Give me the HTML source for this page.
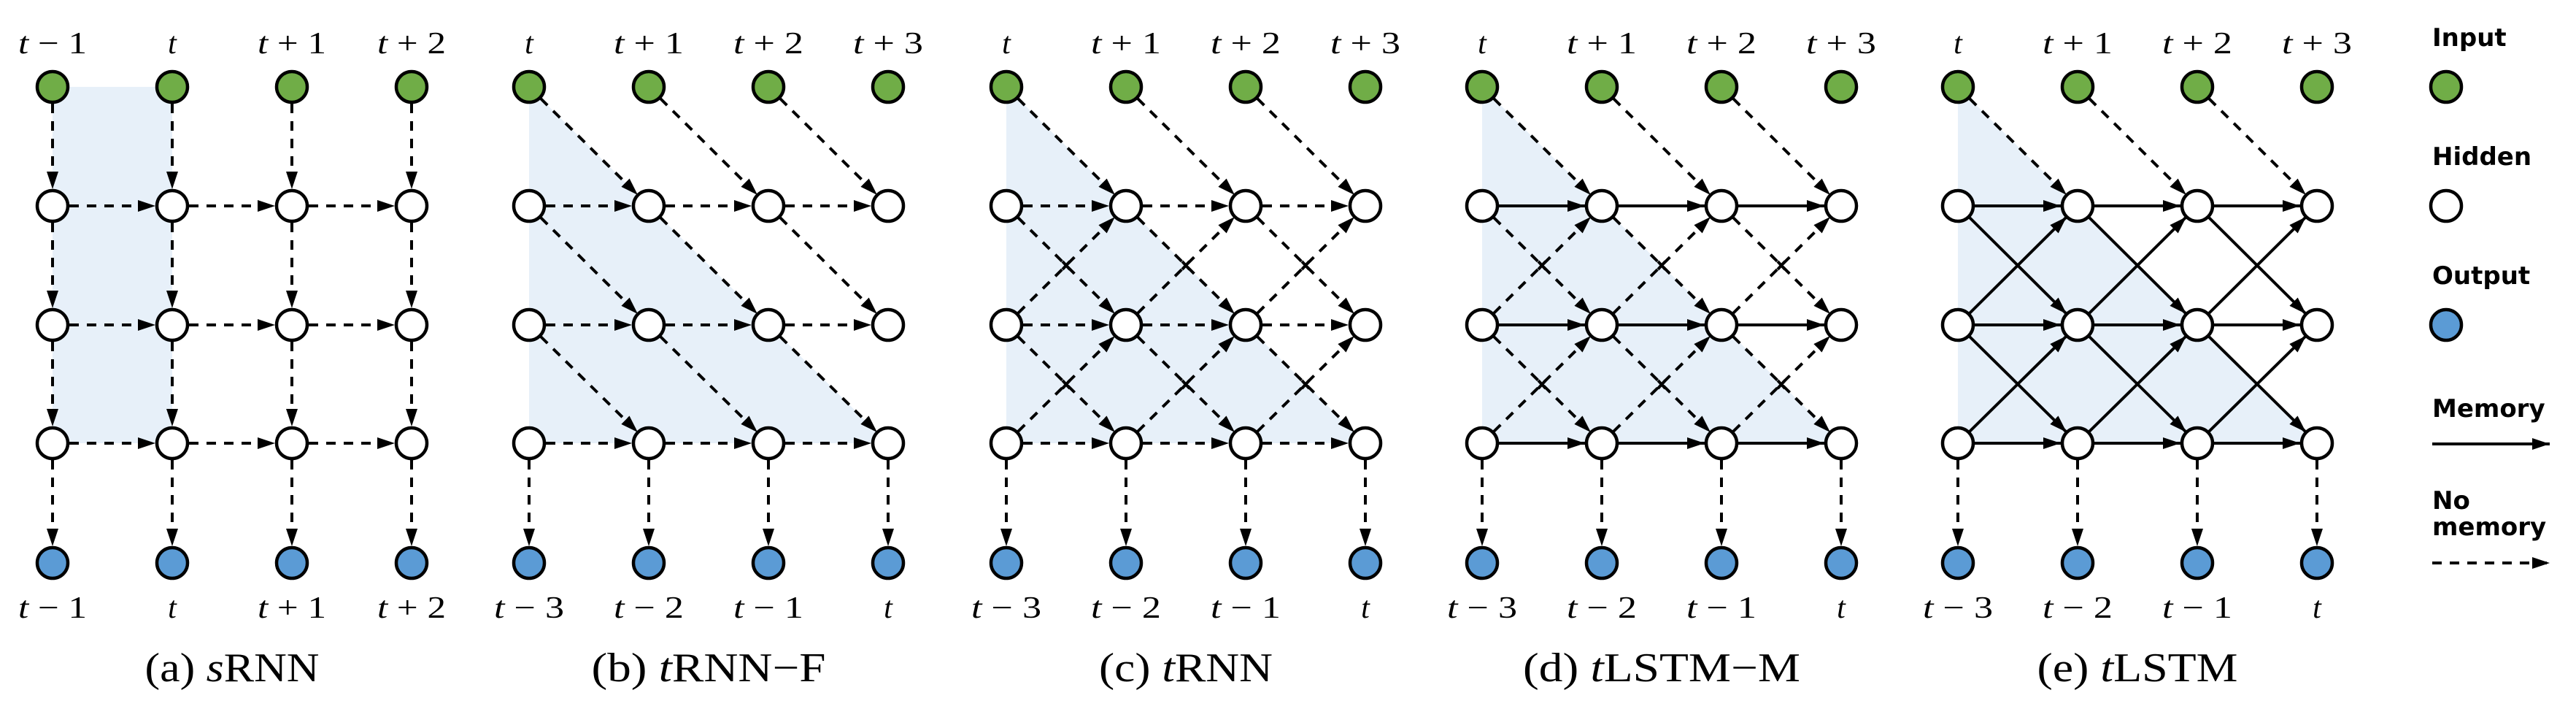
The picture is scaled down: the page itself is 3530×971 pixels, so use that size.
<!DOCTYPE html>
<html><head><meta charset="utf-8"><style>
html,body{margin:0;padding:0;background:#fff;}
svg{display:block;}
text{font-family:"Liberation Serif",serif;}
.lg{font-family:"DejaVu Sans","Liberation Sans",sans-serif;font-weight:bold;font-size:34px;}
</style></head><body>
<svg width="3530" height="971" viewBox="0 0 3530 971" xmlns="http://www.w3.org/2000/svg">
<defs>
<marker id="ah" markerUnits="userSpaceOnUse" markerWidth="26" markerHeight="16" refX="24" refY="8" orient="auto">
<path d="M0,0 L24,8 L0,16 z" fill="#000"/>
</marker>
<g id="nodes" stroke="#000" stroke-width="4.5">
<g fill="#70ad47"><circle cx="0" cy="119" r="21"/><circle cx="164" cy="119" r="21"/><circle cx="328" cy="119" r="21"/><circle cx="492" cy="119" r="21"/></g>
<g fill="#fff">
<circle cx="0" cy="282" r="21"/><circle cx="164" cy="282" r="21"/><circle cx="328" cy="282" r="21"/><circle cx="492" cy="282" r="21"/>
<circle cx="0" cy="445" r="21"/><circle cx="164" cy="445" r="21"/><circle cx="328" cy="445" r="21"/><circle cx="492" cy="445" r="21"/>
<circle cx="0" cy="607" r="21"/><circle cx="164" cy="607" r="21"/><circle cx="328" cy="607" r="21"/><circle cx="492" cy="607" r="21"/></g>
<g fill="#5b9bd5"><circle cx="0" cy="771" r="21"/><circle cx="164" cy="771" r="21"/><circle cx="328" cy="771" r="21"/><circle cx="492" cy="771" r="21"/></g>
</g>
<g id="outs" stroke="#000" stroke-width="4" stroke-dasharray="13 11" marker-end="url(#ah)">
<line x1="0" y1="630" x2="0" y2="748"/><line x1="164" y1="630" x2="164" y2="748"/><line x1="328" y1="630" x2="328" y2="748"/><line x1="492" y1="630" x2="492" y2="748"/>
</g>
<g id="horD" stroke="#000" stroke-width="4" stroke-dasharray="13 11" marker-end="url(#ah)">
<line x1="23" y1="282" x2="141" y2="282"/><line x1="187" y1="282" x2="305" y2="282"/><line x1="351" y1="282" x2="469" y2="282"/>
<line x1="23" y1="445" x2="141" y2="445"/><line x1="187" y1="445" x2="305" y2="445"/><line x1="351" y1="445" x2="469" y2="445"/>
<line x1="23" y1="607" x2="141" y2="607"/><line x1="187" y1="607" x2="305" y2="607"/><line x1="351" y1="607" x2="469" y2="607"/>
</g>
<g id="horS" stroke="#000" stroke-width="4" marker-end="url(#ah)">
<line x1="23" y1="282" x2="141" y2="282"/><line x1="187" y1="282" x2="305" y2="282"/><line x1="351" y1="282" x2="469" y2="282"/>
<line x1="23" y1="445" x2="141" y2="445"/><line x1="187" y1="445" x2="305" y2="445"/><line x1="351" y1="445" x2="469" y2="445"/>
<line x1="23" y1="607" x2="141" y2="607"/><line x1="187" y1="607" x2="305" y2="607"/><line x1="351" y1="607" x2="469" y2="607"/>
</g>
<g id="inD" stroke="#000" stroke-width="4" stroke-dasharray="13 11" marker-end="url(#ah)">
<line x1="16" y1="135" x2="149" y2="267"/><line x1="180" y1="135" x2="313" y2="267"/><line x1="344" y1="135" x2="477" y2="267"/>
</g>
<g id="downD" stroke="#000" stroke-width="4" stroke-dasharray="13 11" marker-end="url(#ah)">
<line x1="16" y1="298" x2="149" y2="430"/><line x1="180" y1="298" x2="313" y2="430"/><line x1="344" y1="298" x2="477" y2="430"/>
<line x1="16" y1="461" x2="149" y2="592"/><line x1="180" y1="461" x2="313" y2="592"/><line x1="344" y1="461" x2="477" y2="592"/>
</g>
<g id="downS" stroke="#000" stroke-width="4" marker-end="url(#ah)">
<line x1="16" y1="298" x2="149" y2="430"/><line x1="180" y1="298" x2="313" y2="430"/><line x1="344" y1="298" x2="477" y2="430"/>
<line x1="16" y1="461" x2="149" y2="592"/><line x1="180" y1="461" x2="313" y2="592"/><line x1="344" y1="461" x2="477" y2="592"/>
</g>
<g id="upD" stroke="#000" stroke-width="4" stroke-dasharray="13 11" marker-end="url(#ah)">
<line x1="16" y1="429" x2="149" y2="297"/><line x1="180" y1="429" x2="313" y2="297"/><line x1="344" y1="429" x2="477" y2="297"/>
<line x1="16" y1="591" x2="149" y2="460"/><line x1="180" y1="591" x2="313" y2="460"/><line x1="344" y1="591" x2="477" y2="460"/>
</g>
<g id="upS" stroke="#000" stroke-width="4" marker-end="url(#ah)">
<line x1="16" y1="429" x2="149" y2="297"/><line x1="180" y1="429" x2="313" y2="297"/><line x1="344" y1="429" x2="477" y2="297"/>
<line x1="16" y1="591" x2="149" y2="460"/><line x1="180" y1="591" x2="313" y2="460"/><line x1="344" y1="591" x2="477" y2="460"/>
</g>
<g id="xm" stroke="#000" stroke-width="4">
<path d="M77,358 l10,11 M87,358 l-10,11 M241,358 l10,11 M251,358 l-10,11 M405,358 l10,11 M415,358 l-10,11"/>
<path d="M77,521 l10,11 M87,521 l-10,11 M241,521 l10,11 M251,521 l-10,11 M405,521 l10,11 M415,521 l-10,11"/>
</g>
<polygon id="tri" points="0,119 0,607 492,607" fill="#e7f0f9"/>
<g id="lab" font-size="42" text-anchor="middle">
<text x="0" y="73" font-style="italic">t</text>
<text x="164" y="73" textLength="96" lengthAdjust="spacingAndGlyphs"><tspan font-style="italic">t</tspan> + 1</text>
<text x="328" y="73" textLength="96" lengthAdjust="spacingAndGlyphs"><tspan font-style="italic">t</tspan> + 2</text>
<text x="492" y="73" textLength="96" lengthAdjust="spacingAndGlyphs"><tspan font-style="italic">t</tspan> + 3</text>
<text x="0" y="846" textLength="96" lengthAdjust="spacingAndGlyphs"><tspan font-style="italic">t</tspan> − 3</text>
<text x="164" y="846" textLength="96" lengthAdjust="spacingAndGlyphs"><tspan font-style="italic">t</tspan> − 2</text>
<text x="328" y="846" textLength="96" lengthAdjust="spacingAndGlyphs"><tspan font-style="italic">t</tspan> − 1</text>
<text x="492" y="846" font-style="italic">t</text>
</g>
</defs>

<!-- (a) -->
<g transform="translate(72,0)">
<rect x="0" y="119" width="164" height="488" fill="#e7f0f9"/>
<use href="#horD"/>
<g stroke="#000" stroke-width="4" stroke-dasharray="13 11" marker-end="url(#ah)">
<line x1="0" y1="142" x2="0" y2="259"/><line x1="164" y1="142" x2="164" y2="259"/><line x1="328" y1="142" x2="328" y2="259"/><line x1="492" y1="142" x2="492" y2="259"/>
<line x1="0" y1="305" x2="0" y2="422"/><line x1="164" y1="305" x2="164" y2="422"/><line x1="328" y1="305" x2="328" y2="422"/><line x1="492" y1="305" x2="492" y2="422"/>
<line x1="0" y1="468" x2="0" y2="584"/><line x1="164" y1="468" x2="164" y2="584"/><line x1="328" y1="468" x2="328" y2="584"/><line x1="492" y1="468" x2="492" y2="584"/>
</g>
<use href="#outs"/>
<use href="#nodes"/>
<g font-size="42" text-anchor="middle">
<text x="0" y="73" textLength="94" lengthAdjust="spacingAndGlyphs"><tspan font-style="italic">t</tspan> − 1</text>
<text x="164" y="73" font-style="italic">t</text>
<text x="328" y="73" textLength="94" lengthAdjust="spacingAndGlyphs"><tspan font-style="italic">t</tspan> + 1</text>
<text x="492" y="73" textLength="94" lengthAdjust="spacingAndGlyphs"><tspan font-style="italic">t</tspan> + 2</text>
<text x="0" y="846" textLength="94" lengthAdjust="spacingAndGlyphs"><tspan font-style="italic">t</tspan> − 1</text>
<text x="164" y="846" font-style="italic">t</text>
<text x="328" y="846" textLength="94" lengthAdjust="spacingAndGlyphs"><tspan font-style="italic">t</tspan> + 1</text>
<text x="492" y="846" textLength="94" lengthAdjust="spacingAndGlyphs"><tspan font-style="italic">t</tspan> + 2</text>
</g>
<text x="246" y="933" font-size="56" text-anchor="middle" textLength="239" lengthAdjust="spacingAndGlyphs">(a) <tspan font-style="italic">s</tspan>RNN</text>
</g>

<!-- (b) -->
<g transform="translate(725,0)">
<use href="#tri"/><use href="#inD"/><use href="#downD"/><use href="#horD"/><use href="#outs"/><use href="#nodes"/><use href="#lab"/>
<text x="246" y="933" font-size="56" text-anchor="middle" textLength="321" lengthAdjust="spacingAndGlyphs">(b) <tspan font-style="italic">t</tspan>RNN−F</text>
</g>

<!-- (c) -->
<g transform="translate(1379,0)">
<use href="#tri"/><use href="#inD"/><use href="#downD"/><use href="#upD"/><use href="#horD"/><use href="#xm"/><use href="#outs"/><use href="#nodes"/><use href="#lab"/>
<text x="246" y="933" font-size="56" text-anchor="middle" textLength="238" lengthAdjust="spacingAndGlyphs">(c) <tspan font-style="italic">t</tspan>RNN</text>
</g>

<!-- (d) -->
<g transform="translate(2031,0)">
<use href="#tri"/><use href="#inD"/><use href="#downD"/><use href="#upD"/><use href="#horS"/><use href="#xm"/><use href="#outs"/><use href="#nodes"/><use href="#lab"/>
<text x="246" y="933" font-size="56" text-anchor="middle" textLength="380" lengthAdjust="spacingAndGlyphs">(d) <tspan font-style="italic">t</tspan>LSTM−M</text>
</g>

<!-- (e) -->
<g transform="translate(2683,0)">
<use href="#tri"/><use href="#inD"/><use href="#downS"/><use href="#upS"/><use href="#horS"/><use href="#outs"/><use href="#nodes"/><use href="#lab"/>
<text x="246" y="933" font-size="56" text-anchor="middle" textLength="275" lengthAdjust="spacingAndGlyphs">(e) <tspan font-style="italic">t</tspan>LSTM</text>
</g>

<!-- legend -->
<g>
<text class="lg" x="3333" y="63">Input</text>
<circle cx="3352" cy="119" r="21" fill="#70ad47" stroke="#000" stroke-width="4.5"/>
<text class="lg" x="3333" y="226">Hidden</text>
<circle cx="3352" cy="282" r="21" fill="#fff" stroke="#000" stroke-width="4.5"/>
<text class="lg" x="3333" y="389">Output</text>
<circle cx="3352" cy="445" r="21" fill="#5b9bd5" stroke="#000" stroke-width="4.5"/>
<text class="lg" x="3333" y="571">Memory</text>
<line x1="3333" y1="608" x2="3494" y2="608" stroke="#000" stroke-width="4" marker-end="url(#ah)"/>
<text class="lg" x="3333" y="697">No</text>
<text class="lg" x="3333" y="733">memory</text>
<line x1="3333" y1="771" x2="3494" y2="771" stroke="#000" stroke-width="4" stroke-dasharray="13 11" marker-end="url(#ah)"/>
</g>
</svg>
</body></html>
